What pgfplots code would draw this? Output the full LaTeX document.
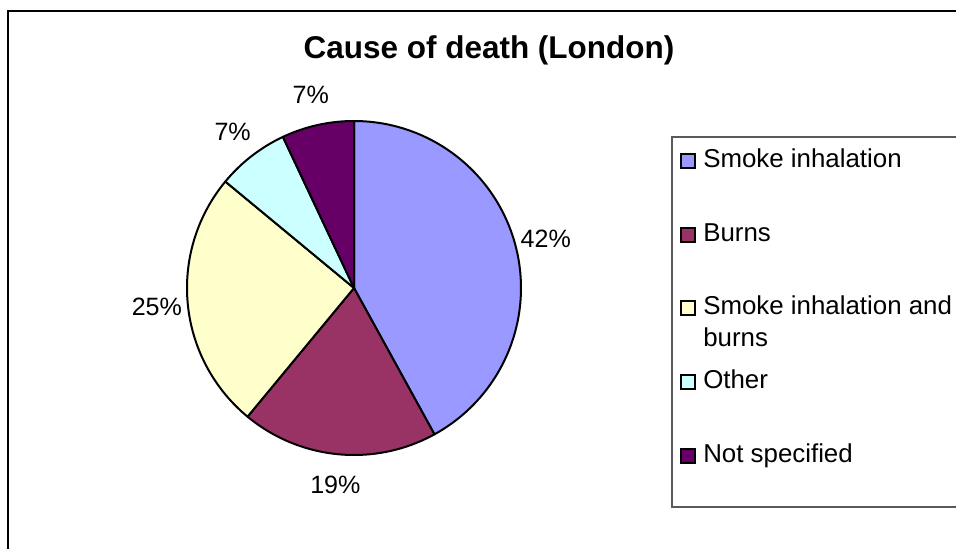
\documentclass[border=0pt]{standalone}
\usepackage{pgfplots}
\usepackage{pgfplotstable}
\pgfplotsset{compat=1.18}
\usepackage{fontspec}
\setmainfont{Liberation Sans}

\definecolor{cSmoke}{HTML}{9999FF}
\definecolor{cBurns}{HTML}{993366}
\definecolor{cBoth}{HTML}{FFFFCC}
\definecolor{cOther}{HTML}{CCFFFF}
\definecolor{cUnspec}{HTML}{660066}
\definecolor{frameGray}{HTML}{5A5A5A}

% Share of deaths by cause (percent)
\pgfplotstableread[col sep=comma]{
cause,share
Smoke inhalation,42
Burns,19
Smoke inhalation and burns,25
Other,7
Not specified,7
}\deathtable

% pie geometry (in the pixel-like axis units used below)
\def\cx{354}
\def\cy{288}
\def\rad{167}
\def\labrad{198}
\xdef\cumangle{90}

% one slice: #1 = row of the table, #2 = fill colour
\newcommand\slice[2]{%
  \pgfplotstablegetelem{#1}{share}\of\deathtable
  \let\share\pgfplotsretval
  \pgfmathsetmacro\sa{\cumangle}%
  \pgfmathsetmacro\ea{\cumangle-3.6*\share}%
  \pgfmathsetmacro\ma{(\sa+\ea)/2}%
  \pgfmathsetmacro\lx{\cx+\labrad*cos(\ma)}%
  \pgfmathsetmacro\ly{\cy-\labrad*sin(\ma)}%
  \edef\doslice{%
    \noexpand\addplot[fill=#2, draw=black, line width=1.5pt, line join=round,
      domain=\ea:\sa, samples=90, variable=\noexpand\t]
      ({\cx+\rad*cos(\noexpand\t)}, {\cy-\rad*sin(\noexpand\t)})
      -- (axis cs:\cx,\cy) -- cycle;
    \noexpand\node[anchor=center, font=\noexpand\pctfont]
      at (axis cs:\lx,\ly) {\share\noexpand\%};
  }%
  \doslice
  \xdef\cumangle{\ea}%
}

\newcommand\pctfont{\fontsize{18.8}{22}\selectfont}
\newcommand\legfont{\fontsize{19.4}{22}\selectfont}

% legend entry: #1 = baseline y, #2 = colour, #3 = text
\newcommand\legentry[3]{%
  \draw[fill=#2, draw=black, line width=1.1pt]
    (axis cs:681,#1-13) rectangle (axis cs:695,#1+1);
  \node[anchor=base west, inner sep=0pt, font=\legfont] at (axis cs:703,#1) {#3};
}

\begin{document}
\begin{tikzpicture}
\begin{axis}[
  name=ax,
  scale only axis,
  width=717pt, height=411.75pt,
  xmin=0, xmax=956, ymin=0, ymax=549,
  y dir=reverse,
  hide axis,
  clip=false,
]
  % outer chart frame
  \draw[black, line width=1.1pt] (axis cs:8,549) -- (axis cs:8,11) -- (axis cs:956,11);

  % title
  \node[anchor=base, inner sep=0pt, font=\fontsize{23.6}{28}\selectfont\bfseries]
    at (axis cs:489,59) {Cause of death (London)};

  % pie slices, clockwise from twelve o'clock
  \slice{0}{cSmoke}
  \slice{1}{cBurns}
  \slice{2}{cBoth}
  \slice{3}{cOther}
  \slice{4}{cUnspec}

  % legend box
  \draw[frameGray, line width=1.1pt]
    (axis cs:956,137) -- (axis cs:672,137) -- (axis cs:672,507) -- (axis cs:956,507);
  \legentry{167}{cSmoke}{Smoke inhalation}
  \legentry{241}{cBurns}{Burns}
  \legentry{314}{cBoth}{Smoke inhalation and}
  \node[anchor=base west, inner sep=0pt, font=\legfont] at (axis cs:703,346) {burns};
  \legentry{388}{cOther}{Other}
  \legentry{462}{cUnspec}{Not specified}
\end{axis}
\pgfresetboundingbox
\path (ax.south west) rectangle (ax.north east);
\end{tikzpicture}
\end{document}
